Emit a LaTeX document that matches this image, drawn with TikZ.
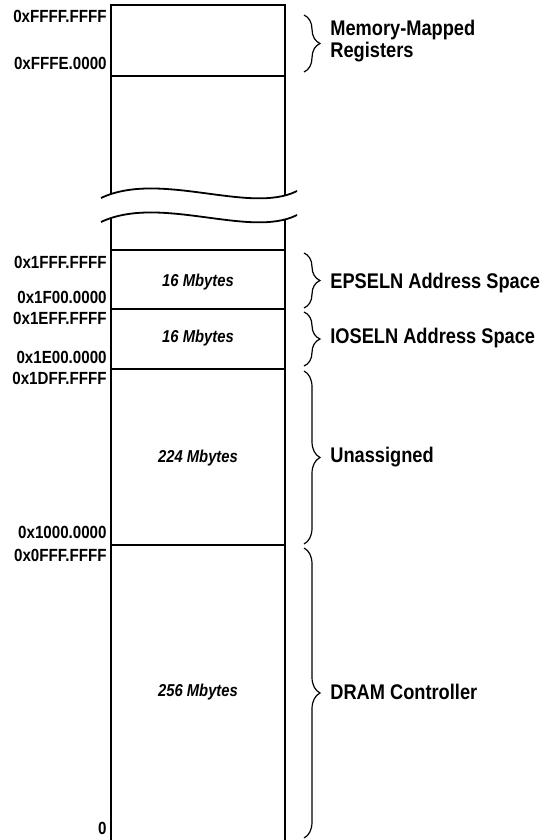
\documentclass[tikz,border=0pt]{standalone}
\usepackage{fontspec}
\setmainfont{Liberation Sans}
\newfontfamily\narrowsans{Liberation Sans}[FakeStretch=0.86]
\usetikzlibrary{decorations.pathreplacing}
\tikzset{
  addr/.style={anchor=east, inner sep=1pt, font=\narrowsans\fontsize{8.8}{9}\selectfont\bfseries},
  msize/.style={font=\narrowsans\fontsize{8.6}{9}\selectfont\bfseries\itshape},
  region/.style={anchor=west, align=left, inner sep=0pt, font=\narrowsans\fontsize{10.6}{9.5}\selectfont\bfseries},
  wall/.style={line width=0.9pt},
  span/.style={decorate, decoration={brace, amplitude=8pt}, line width=0.6pt},
}
\begin{document}
\begin{tikzpicture}[x=0.5pt, y=-0.5pt]
  \useasboundingbox (0,0) rectangle (550,840);

  % Memory column
  \draw[wall] (111,194) -- (111,5) -- (285,5) -- (285,195);
  \draw[wall] (111,218) -- (111,840);
  \draw[wall] (285,219) -- (285,840);
  \foreach \y in {76,250,309,369,545}
    \draw[wall] (111,\y) -- (285,\y);

  % Break in the column
  \draw[wall] (101,198) .. controls (160,170) and (250,215) .. (297,191);
  \draw[wall] (101,222) .. controls (160,194) and (250,239) .. (297,215);

  % Addresses
  \node[addr] (aTop) at (109,16) {0xFFFF.FFFF};
  \node[addr] (aRegs) at (109,63) {0xFFFE.0000};
  \node[addr] (aEpHi) at (109,262) {0x1FFF.FFFF};
  \node[addr] (aEpLo) at (109,297) {0x1F00.0000};
  \node[addr] (aIoHi) at (109,318) {0x1EFF.FFFF};
  \node[addr] (aIoLo) at (109,357) {0x1E00.0000};
  \node[addr] (aUnHi) at (109,378) {0x1DFF.FFFF};
  \node[addr] (aUnLo) at (109,532) {0x1000.0000};
  \node[addr] (aDrHi) at (109,555) {0x0FFF.FFFF};
  \node[addr] (aZero) at (109,828) {0};

  % Sizes
  \node[msize] (sEp) at (198,282) {16 Mbytes};
  \node[msize] (sIo) at (198,338) {16 Mbytes};
  \node[msize] (sUn) at (198,458) {224 Mbytes};
  \node[msize] (sDr) at (198,692) {256 Mbytes};

  % Braces and regions
  \draw[span] (304,15) -- (304,72);
  \draw[span] (304,253) -- (304,308);
  \draw[span] (304,312) -- (304,366);
  \draw[span] (304,371) -- (304,544);
  \draw[span] (304,548) -- (304,838);
  \node[region] (rRegs) at (330,41) {Memory-Mapped\\Registers};
  \node[region] (rEp) at (330,283) {EPSELN Address Space};
  \node[region] (rIo) at (330,338) {IOSELN Address Space};
  \node[region] (rUn) at (330,457) {Unassigned};
  \node[region] (rDr) at (330,692) {DRAM Controller};
\end{tikzpicture}
\end{document}
